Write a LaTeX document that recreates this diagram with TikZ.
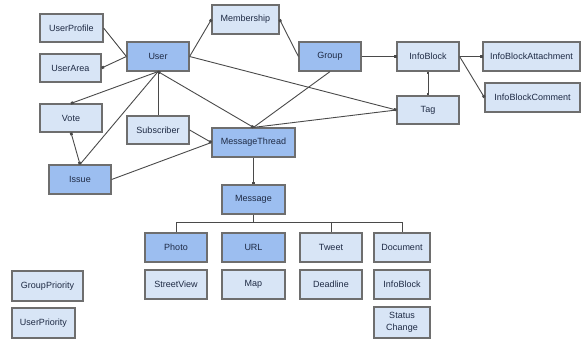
\documentclass[tikz,border=0pt]{standalone}
\usepackage{fontspec}
\setmainfont{Liberation Sans}
\usetikzlibrary{arrows.meta}
\definecolor{lightfill}{HTML}{D8E5F6}
\definecolor{darkfill}{HTML}{9CBEF0}
\definecolor{boxline}{HTML}{6E6E6E}
\definecolor{conn}{HTML}{4A4A4A}
\definecolor{txt}{HTML}{1E2A44}
\tikzset{sq/.tip={Square[length=2.6pt,width=2.6pt]}}
\begin{document}
\begin{tikzpicture}[x=1pt,y=-1pt,
  base/.style={draw=boxline,line width=1.2pt,text=txt,inner sep=1pt,font=\fontsize{9}{9.5}\selectfont,align=center},
  lbox/.style={base,fill=lightfill},
  dbox/.style={base,fill=darkfill},
  wh/.style 2 args={minimum width=#1pt,minimum height=#2pt},
  conline/.style={draw=conn,line width=0.9pt},
]
\useasboundingbox (0,0) rectangle (584,339);
\fill[white] (0,0) rectangle (584,339);
% nodes
\node[lbox,wh={63}{28}] (uprof) at (71.5,28) {UserProfile};
\node[lbox,wh={61}{28}] (uarea) at (70.5,68) {UserArea};
\node[dbox,wh={62}{29}] (user) at (158,56.5) {User};
\node[lbox,wh={67}{29}] (memb) at (245.5,19.5) {Membership};
\node[dbox,wh={62}{29}] (group) at (330,56.5) {Group};
\node[lbox,wh={62}{29}] (ib) at (428,56.5) {InfoBlock};
\node[lbox,wh={97}{29}] (iba) at (531.5,56.5) {InfoBlockAttachment};
\node[lbox,wh={95}{29}] (ibc) at (532.5,97.5) {InfoBlockComment};
\node[lbox,wh={62}{28}] (tag) at (428,110) {Tag};
\node[lbox,wh={62}{28}] (vote) at (71,118) {Vote};
\node[lbox,wh={62}{28}] (subs) at (158,130) {Subscriber};
\node[dbox,wh={83}{29}] (mt) at (253.5,142.5) {MessageThread};
\node[dbox,wh={62}{29}] (issue) at (80,179.5) {Issue};
\node[dbox,wh={63}{29}] (msg) at (253.5,199.5) {Message};
\node[dbox,wh={62}{29}] (photo) at (176,247.5) {Photo};
\node[dbox,wh={63}{29}] (url) at (253.5,247.5) {URL};
\node[lbox,wh={62}{29}] (tweet) at (331,247.5) {Tweet};
\node[lbox,wh={56}{29}] (doc) at (402,247.5) {Document};
\node[lbox,wh={62}{29}] (sview) at (176,284.5) {StreetView};
\node[lbox,wh={63}{29}] (map) at (253.5,284.5) {Map};
\node[lbox,wh={62}{29}] (dead) at (331,284.5) {Deadline};
\node[lbox,wh={56}{29}] (ib2) at (402,284.5) {InfoBlock};
\node[lbox,wh={56}{31}] (stch) at (402,322.5) {Status\\[2pt]Change};
\node[lbox,wh={71}{30}] (gprio) at (47.5,286) {GroupPriority};
\node[lbox,wh={63}{30}] (uprio) at (43.5,323) {UserPriority};
% connectors
\draw[conline] (uprof.east) -- (user.west);
\draw[conline,-sq] (user.west) -- (uarea.east);
\draw[conline,-sq] (user.east) -- (memb.west);
\draw[conline,sq-] (memb.east) -- (group.west);
\draw[conline,-sq] (group.east) -- (ib.west);
\draw[conline,-sq] (ib.east) -- (iba.west);
\draw[conline,-sq] (ib.east) -- (ibc.west);
\draw[conline,sq-sq] (ib.south) -- (tag.north);
\draw[conline,-sq] (user.east) -- (tag.west);
\draw[conline] (mt.north) -- (tag.west);
\draw[conline] (group.south) -- (mt.north);
\draw[conline,sq-sq] (user.south) -- (mt.north);
\draw[conline,-sq] (user.south) -- (vote.north);
\draw[conline] (user.south) -- (issue.north);
\draw[conline] (user.south) -- (subs.north);
\draw[conline,-sq] (subs.east) -- (mt.west);
\draw[conline] (issue.east) -- (mt.west);
\draw[conline,sq-sq] (vote.south) -- (issue.north);
\draw[conline,-sq] (mt.south) -- (msg.north);
% tree
\coordinate (bus) at (253.5,222);
\draw[conline] (msg.south) -- (bus);
\draw[conline] (photo.north) -- (photo.north |- bus) -- (doc.north |- bus) -- (doc.north);
\draw[conline] (tweet.north |- bus) -- (tweet.north);
\end{tikzpicture}
\end{document}
